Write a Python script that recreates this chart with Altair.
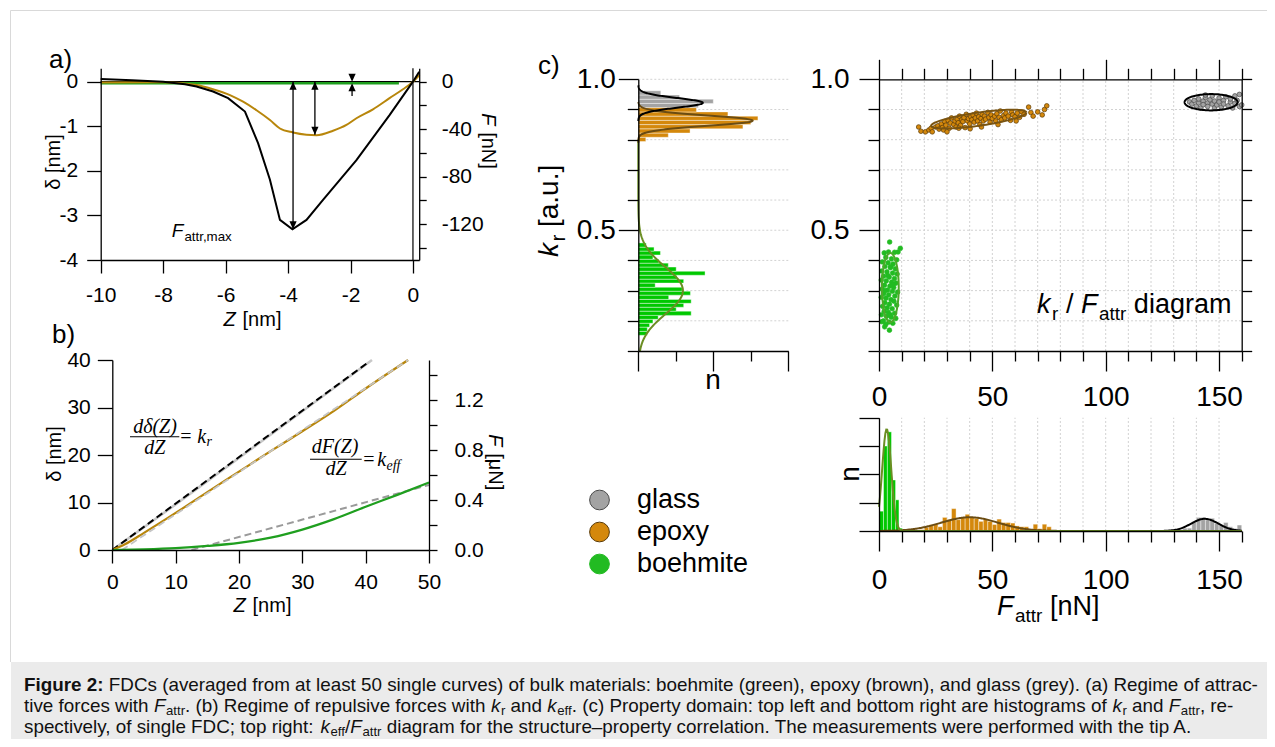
import altair as alt
import numpy as np
import pandas as pd

W, H = 1259, 731
SANS = "Liberation Sans"
SERIF = "Liberation Serif"


def px(x):
    return x - 8.0


def py(y):
    return y - 8.0


# ---------------- colours ----------------
C_GREEN = "#00c800"
C_GREEN_LINE = "#1f9f1f"
C_GREEN_PT = "#22bb22"
C_ORANGE = "#d4880c"
C_GREY = "#a3a3a3"
C_EPOXY_LINE = "#b8860b"
C_FIT_GREEN = "#6b8e23"
C_FIT_BROWN = "#6b4c12"
C_GRID = "#d2d2d2"

# ---------------- panel a : attractive regime ----------------
A_GLASS_Z = [-10, -9, -8, -7.3, -6.93, -6.4, -5.92, -5.38, -4.96, -4.58, -4.26, -3.86, -3.41, -2.88, -1.81, -0.75, 0.0, 0.2]
A_GLASS_D = [0.06, 0.03, 0.0, -0.06, -0.11, -0.22, -0.37, -0.67, -1.38, -2.2, -3.1, -3.31, -3.1, -2.65, -1.76, -0.75, 0.0, 0.22]
A_EPOXY_Z = [-10, -8.0, -6.93, -6.4, -5.86, -5.44, -5.01, -4.58, -4.26, -3.84, -3.41, -3.09, -2.56, -2.13, -1.81, -1.28, -0.75, -0.32, 0.0, 0.21]
A_EPOXY_D = [-0.02, -0.015, -0.075, -0.17, -0.30, -0.45, -0.64, -0.86, -1.05, -1.14, -1.19, -1.20, -1.10, -0.97, -0.82, -0.62, -0.37, -0.17, 0.0, 0.15]
A_BOEH_Z = [-10, -0.45]
A_BOEH_D = [-0.035, -0.035]
A_ARROW_Z = [-3.84, -3.14]
A_ARROW_TOP = [0.0, 0.0]
A_ARROW_BOT = [-3.31, -1.19]
A_HEAD_UP_D = [-0.09, -0.09]
A_HEAD_DN_D = [-3.22, -1.10]
A_MARK_Z = [-1.95]
A_MARK_DN_D = [0.09]
A_MARK_UP_D = [-0.125]
A_MARK_STEM = [-0.2, -0.32]
A_ZT = [-10, -8, -6, -4, -2, 0]
A_DT = [-4, -3, -2, -1, 0]
A_FT = [-140, -120, -100, -80, -60, -40, -20, 0]

# ---------------- panel b : repulsive regime ----------------
B_GLASS_Z = [0, 10, 20, 30, 41]
B_GLASS_D = [0, 9.6, 19.4, 29.2, 40]
B_GLASS_FIT_Z = [0, 40.5]
B_GLASS_FIT_D = [0, 39.6]
B_EPOXY_Z = [0, 2, 5, 10, 15, 20, 25, 30, 35, 40, 46.7]
B_EPOXY_D = [0, 1.2, 3.6, 7.8, 12.2, 16.5, 20.8, 25.0, 29.3, 34.0, 40]
B_EPOXY_FIT_Z = [1.5, 46.7]
B_EPOXY_FIT_D = [0, 40]
B_BOEH_Z = [0, 5, 10, 15, 20, 25, 30, 35, 40, 45, 50]
B_BOEH_D = [0, 0.15, 0.4, 0.85, 1.5, 2.6, 4.3, 6.5, 9.1, 11.6, 14.2]
B_BOEH_FIT_Z = [12.5, 50]
B_BOEH_FIT_D = [0, 13.7]
B_ZT = [0, 10, 20, 30, 40, 50]
B_DT = [0, 10, 20, 30, 40]
B_FT = [0, 0.2, 0.4, 0.6, 0.8, 1.0, 1.2, 1.4]

# ---------------- panel c : k_r histogram ----------------
LH_GREEN_LO = [0.152, 0.165, 0.179, 0.192, 0.205, 0.218, 0.232, 0.245, 0.258, 0.271, 0.285, 0.298,
               0.311, 0.325, 0.338, 0.351, 0.364, 0.378, 0.391, 0.404, 0.418, 0.431, 0.444]
LH_GREEN_N = [2.4, 2.4, 3.0, 3.9, 5.3, 14.1, 10.1, 12.1, 14.1, 8.1, 13.9, 11.7,
              4.5, 12.1, 10.3, 17.8, 10.1, 8.0, 5.5, 3.9, 5.9, 4.2, 2.1]
LH_EPOXY_LO = [0.794, 0.808, 0.822, 0.836, 0.850, 0.864, 0.878, 0.892]
LH_EPOXY_N = [2, 8, 13.8, 27.9, 30, 31.9, 23.9, 15.5]
LH_GLASS_LO = [0.892, 0.906, 0.920, 0.934, 0.948]
LH_GLASS_N = [5, 16, 20, 11, 6]
LH_FIT = {  # mean, sigma, amplitude, from, to
    "glass": (0.922, 0.016, 17.2, 0.862, 0.98),
    "epoxy": (0.863, 0.017, 30.5, 0.79, 0.925),
    "boehmite": (0.300, 0.078, 11.9, 0.10, 0.80),
}

# ---------------- panel c : F_attr histogram ----------------
BH_GREEN_LO = [0.0, 2.0, 3.7, 5.5, 7.3, 8.8]
BH_GREEN_HI = [2.0, 3.7, 5.5, 7.3, 8.8, 10.3]
BH_GREEN_N = [7, 30, 35, 18, 11, 1]
BH_EPOXY_LO = [18, 20, 22, 24, 26, 28, 30, 32, 34, 36, 38, 40, 42, 44, 46, 48, 50, 52, 54, 56, 58, 60,
               62, 64, 66, 68, 70, 72, 74]
BH_EPOXY_N = [0.5, 1.3, 2.2, 2.5, 1.5, 4.8, 4.0, 7.9, 4.0, 4.8, 5.9, 4.8, 4.5, 3.4, 4.0, 3.4, 2.3, 4.2,
              3.0, 3.0, 2.8, 1.8, 1.5, 1.5, 0.5, 2.4, 0.8, 2.4, 1.5]
BH_GLASS_LO = [132, 134, 136, 138, 140, 142, 144, 146, 148, 150, 152, 154, 156, 158]
BH_GLASS_N = [0.5, 1.0, 1.0, 3.3, 4.8, 4.8, 3.9, 4.5, 2.7, 2.1, 3.0, 1.5, 0.9, 2.1]
BH_FIT = {"glass": (143.7, 6.0, 4.3), "epoxy": (40.0, 12.5, 4.85), "boehmite": (3.4, 2.0, 36.0)}

# ---------------- panel c : k_r / F_attr diagram ----------------
GLASS_F = [137, 138, 139, 140, 141, 141, 142, 143, 143, 144, 145, 145, 146, 147, 147, 148, 148, 149, 150, 150,
           151, 152, 152, 153, 154, 155, 155, 156, 157, 157, 158, 159, 159, 160, 144]
GLASS_KR = [0.925, 0.918, 0.930, 0.912, 0.922, 0.935, 0.905, 0.928, 0.916, 0.940, 0.922, 0.910, 0.932, 0.918,
            0.945, 0.905, 0.928, 0.915, 0.938, 0.925, 0.908, 0.930, 0.918, 0.942, 0.912, 0.925, 0.935, 0.905,
            0.920, 0.945, 0.930, 0.910, 0.950, 0.915, 0.948]
EPOXY_F = [17.5, 18.5, 20.5, 22, 23, 23.5, 25, 26, 26.5, 27.5, 28, 29, 29.5, 30.5, 31, 31.5, 32, 33, 33.5, 34,
           34.5, 35, 35.5, 36, 36.5, 37, 37.5, 38, 38.5, 39, 39.5, 40, 40.5, 41, 41.5, 42, 42.5, 43, 43.5, 44,
           44.5, 45, 45.5, 46, 46.5, 47, 48, 48.5, 49, 49.5, 50, 51, 51.5, 52, 53, 53.5, 54, 55, 55.5, 56,
           57, 58, 58.5, 59, 60, 61, 62, 63, 64, 66, 67, 68, 70, 72, 73, 74, 28.5, 35.2, 45.2, 52.5,
           60.5, 30, 40.2]
EPOXY_KR = [0.842, 0.828, 0.826, 0.832, 0.838, 0.826, 0.842, 0.846, 0.835, 0.852, 0.84, 0.86, 0.848, 0.864,
            0.838, 0.855, 0.872, 0.85, 0.862, 0.842, 0.868, 0.856, 0.878, 0.848, 0.866, 0.86, 0.873, 0.84,
            0.884, 0.862, 0.87, 0.852, 0.876, 0.866, 0.882, 0.858, 0.872, 0.888, 0.862, 0.876, 0.85, 0.87,
            0.884, 0.862, 0.878, 0.868, 0.89, 0.874, 0.858, 0.882, 0.87, 0.878, 0.862, 0.886, 0.874, 0.895,
            0.866, 0.88, 0.872, 0.888, 0.878, 0.864, 0.892, 0.882, 0.876, 0.888, 0.874, 0.892, 0.884, 0.908,
            0.89, 0.878, 0.892, 0.882, 0.9, 0.912, 0.832, 0.838, 0.842, 0.85, 0.862, 0.826, 0.836]
BOEH_F = [4.7, 9.4, 2.3, 4.2, 6.9, 8.4, 3.0, 5.5, 7.8, 1.5, 4.0, 6.2, 2.6, 5.0, 7.2, 1.2, 3.5, 6.0, 8.0, 2.0,
          4.5, 6.8, 1.0, 3.2, 5.6, 7.5, 2.4, 4.8, 6.5, 1.4, 3.8, 5.9, 8.2, 2.1, 4.3, 7.0, 1.0, 3.1, 5.3, 6.6,
          2.6, 4.6, 7.8, 1.6, 3.6, 5.8, 2.3, 4.1, 6.9, 1.1, 3.3, 5.4, 7.4, 2.0, 4.4, 6.1, 1.3, 2.5, 4.6, 3.0,
          5.0, 3.9, 5.2, 2.8, 6.3]
BOEH_KR = [0.461, 0.440, 0.425, 0.428, 0.427, 0.428, 0.410, 0.405, 0.402, 0.395, 0.392, 0.388, 0.380, 0.376,
           0.372, 0.365, 0.362, 0.358, 0.355, 0.348, 0.345, 0.340, 0.335, 0.332, 0.328, 0.325, 0.318, 0.315,
           0.310, 0.305, 0.302, 0.298, 0.295, 0.290, 0.286, 0.282, 0.278, 0.275, 0.270, 0.265, 0.260, 0.255,
           0.252, 0.248, 0.243, 0.240, 0.232, 0.228, 0.225, 0.220, 0.215, 0.212, 0.208, 0.200, 0.196, 0.192,
           0.197, 0.180, 0.169, 0.188, 0.220, 0.350, 0.380, 0.300, 0.320]
ELLIPSES = {  # centre F, centre k_r, major half-vector (dF, dk), minor half-vector (dF, dk)
    "glass": (146.5, 0.924, (11.7, 0.0), (0.0, 0.027)),
    "epoxy": (44.0, 0.868, (21.0, 0.022), (0.0, 0.022)),
    "boehmite": (5.0, 0.310, (3.7, 0.0), (0.0, 0.115)),
}
MATERIALS = ["glass", "epoxy", "boehmite"]
PT_FILL = [C_GREY, C_ORANGE, C_GREEN_PT]
PT_STROKE = ["#4a4a4a", "#5a3a06", C_GREEN_PT]

KR_MAJOR = [0.5, 1.0]
KR_MINOR = [0.1, 0.2, 0.3, 0.4, 0.6, 0.7, 0.8, 0.9]
KR_ALL = [0.1, 0.2, 0.3, 0.4, 0.5, 0.6, 0.7, 0.8, 0.9, 1.0]
KR_GRID = [0.2, 0.3, 0.4, 0.5, 0.6, 0.7, 0.8, 0.9, 1.0]
F_MAJOR = [0, 50, 100, 150]
F_MINOR = [10, 20, 30, 40, 60, 70, 80, 90, 110, 120, 130, 140, 160]
F_GRID = [10, 20, 30, 40, 50, 60, 70, 80, 90, 100, 110, 120, 130, 140, 150]
N_MAJOR = [0, 20, 40]
N_MINOR = [10, 30]
NB_TICKS = [0, 10, 20, 30, 40]

# ---------------- panel geometry (pixel ranges) ----------------
PA = {"x": ([-10, 0.2], [px(100.7), px(419.2)]), "y": ([-4, 0.3], [py(260), py(68.3)])}
PA_F = {"y": ([-150.3, 11.2], [py(260), py(68.3)])}
PB = {"x": ([0, 50], [px(112.3), px(429)]), "y": ([0, 40], [py(550), py(360)])}
PB_F = {"y": ([0, 1.52], [py(550), py(360)])}
PL = {"x": ([0, 40], [px(638.3), px(788.3)]), "y": ([0.1, 1.0], [py(351), py(79.3)])}
PS = {"x": ([0, 160], [px(879), px(1241.7)]), "y": ([0.1, 1.0], [py(351), py(79.3)])}
PH = {"x": ([0, 160], [px(879), px(1241.7)]), "y": ([0, 40], [py(531), py(417.7)])}

# ---------------- Arial / Helvetica advance widths ----------------
_REG = {' ': 278, '!': 278, '(': 333, ')': 333, ',': 278, '-': 333, '.': 278, '/': 278, ':': 278, ';': 278,
        '=': 584, '[': 278, ']': 278, '\u2013': 556,
        'A': 667, 'B': 667, 'C': 722, 'D': 722, 'E': 667, 'F': 611, 'G': 778, 'H': 722, 'I': 278, 'J': 500,
        'K': 667, 'L': 556, 'M': 833, 'N': 722, 'O': 778, 'P': 667, 'Q': 778, 'R': 722, 'S': 667, 'T': 611,
        'U': 722, 'V': 667, 'W': 944, 'X': 667, 'Y': 667, 'Z': 611,
        'a': 556, 'b': 556, 'c': 500, 'd': 556, 'e': 556, 'f': 278, 'g': 556, 'h': 556, 'i': 222, 'j': 222,
        'k': 500, 'l': 222, 'm': 833, 'n': 556, 'o': 556, 'p': 556, 'q': 556, 'r': 333, 's': 500, 't': 278,
        'u': 556, 'v': 500, 'w': 722, 'x': 500, 'y': 500, 'z': 500}
for _d in "0123456789":
    _REG[_d] = 556
_BOLD = {'F': 611, 'i': 278, 'g': 611, 'u': 611, 'r': 389, 'e': 556, ' ': 278, '2': 556, ':': 333}


def tw(s, bold=False):
    tab = _BOLD if bold else _REG
    return sum(tab.get(c, _REG.get(c, 556)) for c in s) / 1000.0


L = []


def S(dom, rng):
    return alt.Scale(domain=list(dom), range=list(rng), nice=False, zero=False)


def XE(field, p):
    return alt.X(field, scale=S(*p["x"]), axis=None)


def YE(field, p):
    return alt.Y(field, scale=S(*p["y"]), axis=None)


def line(p, xs, ys, color, width, dash=None, interp=None):
    df = pd.DataFrame({"x": xs, "y": ys, "o": np.arange(len(xs))})
    kw = dict(color=color, strokeWidth=width)
    if dash:
        kw["strokeDash"] = dash
    if interp:
        kw["interpolate"] = interp
    return alt.Chart(df).mark_line(**kw).encode(x=XE("x:Q", p), y=YE("y:Q", p), order="o:Q")


def vrules(p, xs, y0, y1, color, width=1.0, dash=None):
    df = pd.DataFrame({"x": xs, "a": y0, "b": y1})
    kw = dict(color=color, strokeWidth=width)
    if dash:
        kw["strokeDash"] = dash
    return alt.Chart(df).mark_rule(**kw).encode(x=XE("x:Q", p), y=YE("a:Q", p), y2="b:Q")


def hrules(p, ys, x0, x1, color, width=1.0, dash=None):
    df = pd.DataFrame({"y": ys, "a": x0, "b": x1})
    kw = dict(color=color, strokeWidth=width)
    if dash:
        kw["strokeDash"] = dash
    return alt.Chart(df).mark_rule(**kw).encode(y=YE("y:Q", p), x=XE("a:Q", p), x2="b:Q")


def vbars(p, lo, hi, n, color):
    df = pd.DataFrame({"lo": lo, "hi": hi, "n": n, "z": 0.0})
    return alt.Chart(df).mark_rect(color=color, stroke="white", strokeWidth=0.4).encode(
        x=XE("lo:Q", p), x2="hi:Q", y=YE("n:Q", p), y2="z:Q")


def hbars(p, lo, hi, n, color):
    df = pd.DataFrame({"lo": lo, "hi": hi, "n": n, "z": 0.0})
    return alt.Chart(df).mark_rect(color=color, stroke="white", strokeWidth=0.4).encode(
        y=YE("lo:Q", p), y2="hi:Q", x=XE("n:Q", p), x2="z:Q")


SHAPE_UP = "M0,-1L0.9,1L-0.9,1Z"
SHAPE_DN = "M0,1L0.9,-1L-0.9,-1Z"


def heads(p, xs, ys, shape):
    df = pd.DataFrame({"x": xs, "y": ys})
    return alt.Chart(df).mark_point(shape=shape, filled=True, size=64, color="black", opacity=1).encode(
        x=XE("x:Q", p), y=YE("y:Q", p))


def ax(ch, p, orient, pos, values, tick, labels=True, pad=0, fs=21, fmt=None, lexpr=None, domain=True,
       baseline=None):
    if orient == "bottom":
        off = py(pos) - H
    elif orient == "top":
        off = -py(pos)
    elif orient == "left":
        off = -px(pos)
    else:
        off = px(pos) - W
    kw = dict(orient=orient, offset=off, values=values, tickSize=tick, labels=labels, title=None, grid=False,
              domain=domain, domainColor="black", tickColor="black", domainWidth=1.3, tickWidth=1.3,
              labelFont=SANS, labelFontSize=fs, labelColor="black", labelPadding=pad, labelFlush=False,
              labelOverlap=False, ticks=True, zindex=2)
    if fmt:
        kw["format"] = fmt
    if lexpr:
        kw["labelExpr"] = lexpr
    if baseline:
        kw["labelBaseline"] = baseline
    axis = alt.Axis(**kw)
    dom, rng = p[ch]
    df = pd.DataFrame({"v": [dom[0]]})
    if ch == "x":
        enc = {"x": alt.X("v:Q", scale=S(dom, rng), axis=axis)}
    else:
        enc = {"y": alt.Y("v:Q", scale=S(dom, rng), axis=axis)}
    return alt.Chart(df).mark_point(opacity=0).encode(**enc)


def text(t, X, Y, size, angle=0, align="center", baseline="middle", font=SANS, style="normal",
         weight="normal", color="black"):
    return alt.Chart(pd.DataFrame({"t": [t]})).mark_text(
        align=align, baseline=baseline, angle=angle, font=font, fontSize=size, fontStyle=style,
        fontWeight=weight, color=color).encode(text="t:N", x=alt.value(px(X)), y=alt.value(py(Y)))


def rich(segs, X, Y, size, angle=0, center=False, font=SANS, color="black", sub=0.7, subdy=0.25,
         baseline="alphabetic", italic_gap=0.06):
    ws = []
    for t, kind in segs:
        fs = size * sub if kind == "sub" else size
        ws.append(tw(t, kind == "b") * fs + (italic_gap * size if kind == "i" else 0))
    cur = -sum(ws) / 2.0 if center else 0.0
    out = []
    for (t, kind), w in zip(segs, ws):
        fs = size * sub if kind == "sub" else size
        lead = len(t) - len(t.lstrip(" "))
        shift = tw(" " * lead) * fs
        out.append(alt.Chart(pd.DataFrame({"t": [t.strip(" ")]})).mark_text(
            align="left", baseline=baseline, dx=cur + shift, dy=(size * subdy if kind == "sub" else 0),
            angle=angle, font=font, fontSize=fs, fontStyle=("italic" if kind == "i" else "normal"),
            fontWeight=("bold" if kind == "b" else "normal"), color=color).encode(
            text="t:N", x=alt.value(px(X)), y=alt.value(py(Y))))
        cur += w
    return out


def gauss(mu, sig, amp, lo, hi, num=160):
    t = np.linspace(lo, hi, num)
    return t, amp * np.exp(-0.5 * ((t - mu) / sig) ** 2)


# ================= background: frame and caption box =================
L.append(alt.Chart(pd.DataFrame({"t": [""]})).mark_rule(color="#d9d9d9", strokeWidth=1).encode(
    x=alt.value(px(10.5)), x2=alt.value(W), y=alt.value(py(10.5))))
L.append(alt.Chart(pd.DataFrame({"t": [""]})).mark_rule(color="#d9d9d9", strokeWidth=1).encode(
    x=alt.value(px(10.5)), y=alt.value(py(10.5)), y2=alt.value(py(662))))
L.append(alt.Chart(pd.DataFrame({"t": [""]})).mark_rect(fill="#ebebeb").encode(
    x=alt.value(px(11)), x2=alt.value(W + 5), y=alt.value(py(662)), y2=alt.value(H + 5)))

# ================= panel a =================
L.append(hrules(PA, [0.0], [-10.0], [0.2], "black", 1.2))
L.append(vrules(PA, [0.0], [-4.0], [0.3], "black", 1.2))
L.append(line(PA, A_BOEH_Z, A_BOEH_D, C_GREEN_LINE, 2.6))
L.append(line(PA, A_EPOXY_Z, A_EPOXY_D, C_EPOXY_LINE, 2.0, interp="monotone"))
L.append(line(PA, A_GLASS_Z, A_GLASS_D, "black", 2.0))
L.append(vrules(PA, A_ARROW_Z, A_ARROW_TOP, A_ARROW_BOT, "black", 1.3))
L.append(heads(PA, A_ARROW_Z, A_HEAD_UP_D, SHAPE_UP))
L.append(heads(PA, A_ARROW_Z, A_HEAD_DN_D, SHAPE_DN))
L.append(heads(PA, A_MARK_Z, A_MARK_DN_D, SHAPE_DN))
L.append(heads(PA, A_MARK_Z, A_MARK_UP_D, SHAPE_UP))
L.append(vrules(PA, A_MARK_Z, [A_MARK_STEM[0]], [A_MARK_STEM[1]], "black", 1.3))
HYPH = "replace(datum.label, '\u2212', '-')"
L.append(ax("y", PA, "left", 100.7, A_DT, 14, pad=9, fs=21, lexpr=HYPH))
L.append(ax("x", PA, "bottom", 260, A_ZT, 13, pad=22, fs=21, lexpr=HYPH, baseline="middle"))
L.append(ax("y", PA_F, "right", 419.2, A_FT, 7, pad=15, fs=21,
            lexpr="datum.value % 40 == 0 ? " + HYPH + " : ''"))

# ================= panel b =================
L.append(line(PB, B_GLASS_Z, B_GLASS_D, "#c8c8c8", 2.6))
L.append(line(PB, B_GLASS_FIT_Z, B_GLASS_FIT_D, "black", 2.0, dash=[7, 4]))
L.append(line(PB, B_EPOXY_Z, B_EPOXY_D, C_EPOXY_LINE, 2.2, interp="monotone"))
L.append(line(PB, B_EPOXY_FIT_Z, B_EPOXY_FIT_D, "#c4c4c4", 1.8, dash=[7, 4]))
L.append(line(PB, B_BOEH_FIT_Z, B_BOEH_FIT_D, "#9a9a9a", 2.0, dash=[7, 4]))
L.append(line(PB, B_BOEH_Z, B_BOEH_D, C_GREEN_LINE, 2.2, interp="monotone"))
L.append(ax("y", PB, "left", 112.3, B_DT, 15, pad=7, fs=21))
L.append(ax("x", PB, "bottom", 550, B_ZT, 13, pad=19, fs=21, baseline="middle"))
L.append(ax("y", PB_F, "right", 429, B_FT, 8, pad=17, fs=21, fmt=".1f",
            lexpr="abs((datum.value * 10) % 4) < 0.01 ? datum.label : ''"))

# formulas
L.append(text("d\u03b4(Z)", 155, 427, 20, font=SERIF, style="italic"))
L.append(text("dZ", 154.7, 447.5, 20, font=SERIF, style="italic"))
L.append(alt.Chart(pd.DataFrame({"t": [""]})).mark_rule(color="black", strokeWidth=1.1).encode(
    x=alt.value(px(130)), x2=alt.value(px(179.3)), y=alt.value(py(436.7))))
L.append(text("=", 186, 437, 20, font=SERIF))
L.append(text("k", 201.7, 437, 20, font=SERIF, style="italic"))
L.append(text("r", 206.5, 442, 14, font=SERIF, style="italic", align="left"))
L.append(text("dF(Z)", 335, 447, 20, font=SERIF, style="italic"))
L.append(text("dZ", 336, 469, 20, font=SERIF, style="italic"))
L.append(alt.Chart(pd.DataFrame({"t": [""]})).mark_rule(color="black", strokeWidth=1.1).encode(
    x=alt.value(px(310)), x2=alt.value(px(361.7)), y=alt.value(py(459.3))))
L.append(text("=", 369, 460, 20, font=SERIF))
L.append(text("k", 381.7, 460, 20, font=SERIF, style="italic"))
L.append(text("eff", 386.5, 465.5, 14, font=SERIF, style="italic", align="left"))

# ================= panel c : k_r histogram =================
L.append(hrules(PL, KR_GRID, [0.0] * len(KR_GRID), [40.0] * len(KR_GRID), C_GRID, 1.0, dash=[2, 2]))
L.append(hbars(PL, LH_GLASS_LO, LH_GLASS_LO[1:] + [0.962], LH_GLASS_N, C_GREY))
L.append(hbars(PL, LH_EPOXY_LO, LH_EPOXY_LO[1:] + [0.906], LH_EPOXY_N, C_ORANGE))
L.append(hbars(PL, LH_GREEN_LO, LH_GREEN_LO[1:] + [0.458], LH_GREEN_N, C_GREEN))
for mat, col in (("boehmite", C_FIT_GREEN), ("epoxy", C_FIT_BROWN), ("glass", "black")):
    mu, sg, amp, lo, hi = LH_FIT[mat]
    kr, n = gauss(mu, sg, amp, lo, hi)
    L.append(line(PL, n, kr, col, 2.0))
L.append(ax("y", PL, "left", 638.3, KR_MAJOR, 20, pad=3, fs=28, fmt=".1f"))
L.append(ax("y", PL, "left", 638.3, KR_MINOR, 11, labels=False, domain=False))
L.append(ax("x", PL, "bottom", 351, N_MAJOR, 20, labels=False))
L.append(ax("x", PL, "bottom", 351, N_MINOR, 10, labels=False, domain=False))

# ================= panel c : scatter =================
L.append(vrules(PS, F_GRID, [0.1] * len(F_GRID), [1.0] * len(F_GRID), C_GRID, 1.0, dash=[2, 2]))
L.append(hrules(PS, KR_GRID[:-1], [0.0] * (len(KR_GRID) - 1), [160.0] * (len(KR_GRID) - 1), C_GRID, 1.0,
                dash=[2, 2]))
pts = pd.concat([
    pd.DataFrame({"F": GLASS_F, "kr": GLASS_KR, "m": "glass"}),
    pd.DataFrame({"F": EPOXY_F, "kr": EPOXY_KR, "m": "epoxy"}),
    pd.DataFrame({"F": BOEH_F, "kr": BOEH_KR, "m": "boehmite"}),
], ignore_index=True)
LEG = dict(orient="none", legendX=px(586), legendY=py(486.5), title=None, labelFont=SANS, labelFontSize=27,
           labelColor="black", symbolSize=390, symbolStrokeWidth=1.0, symbolType="circle", rowPadding=4,
           labelOffset=24, padding=0, symbolOpacity=1)
L.append(alt.Chart(pts).mark_point(shape="circle", filled=True, size=22, strokeWidth=0.7, opacity=1).encode(
    x=XE("F:Q", PS), y=YE("kr:Q", PS),
    fill=alt.Fill("m:N", scale=alt.Scale(domain=MATERIALS, range=PT_FILL), legend=alt.Legend(**LEG)),
    stroke=alt.Stroke("m:N", scale=alt.Scale(domain=MATERIALS, range=PT_STROKE), legend=alt.Legend(**LEG)),
))
for mat, col in (("glass", "black"), ("epoxy", "#7a5410"), ("boehmite", "#4ea82a")):
    cx, cy, (ux, uy), (vx, vy) = ELLIPSES[mat]
    t = np.linspace(0, 2 * np.pi, 121)
    L.append(line(PS, cx + ux * np.cos(t) + vx * np.sin(t), cy + uy * np.cos(t) + vy * np.sin(t), col, 2.0))
L.append(ax("y", PS, "left", 879, KR_MAJOR, 20, pad=10, fs=28, fmt=".1f"))
L.append(ax("y", PS, "left", 879, KR_MINOR, 11, labels=False, domain=False))
L.append(ax("y", PS, "right", 1241.7, KR_ALL, 10, labels=False))
L.append(ax("x", PS, "top", 79.3, F_MAJOR, 20, labels=False))
L.append(ax("x", PS, "top", 79.3, F_MINOR, 11, labels=False, domain=False))
L.append(ax("x", PS, "bottom", 351, F_MAJOR, 20, pad=26, fs=28, baseline="middle"))
L.append(ax("x", PS, "bottom", 351, F_MINOR, 10, labels=False, domain=False))

# ================= panel c : F_attr histogram =================
L.append(vrules(PH, F_GRID, [0.0] * len(F_GRID), [40.0] * len(F_GRID), C_GRID, 1.0, dash=[2, 2]))
L.append(vbars(PH, BH_EPOXY_LO, [v + 2 for v in BH_EPOXY_LO], BH_EPOXY_N, C_ORANGE))
L.append(vbars(PH, BH_GLASS_LO, [v + 2 for v in BH_GLASS_LO], BH_GLASS_N, C_GREY))
L.append(vbars(PH, BH_GREEN_LO, BH_GREEN_HI, BH_GREEN_N, C_GREEN))
for mat, col in (("glass", "black"), ("epoxy", C_FIT_BROWN), ("boehmite", C_FIT_GREEN)):
    mu, sg, amp = BH_FIT[mat]
    f, n = gauss(mu, sg, amp, 0, 160, 400)
    L.append(line(PH, f, n, col, 2.0))
L.append(ax("y", PH, "left", 879, NB_TICKS, 20, labels=False))
L.append(ax("x", PH, "bottom", 531, F_MAJOR, 20, pad=29, fs=28, baseline="middle"))
L.append(ax("x", PH, "bottom", 531, F_MINOR, 11, labels=False, domain=False))

# ================= titles and labels =================
L.append(text("a)", 49, 60, 26, align="left"))
L.append(text("b)", 52, 335, 26, align="left"))
L.append(text("c)", 538, 66, 26, align="left"))
L += rich([("Z", "i"), (" [nm]", "n")], 252.5, 326, 20, center=True)
L.append(text("\u03b4 [nm]", 54, 162, 20, angle=270))
L += rich([("F", "i"), (" [nN]", "n")], 488, 141, 20, angle=90, center=True, baseline="middle")
L += rich([("F", "i"), ("attr,max", "sub")], 171.7, 236.7, 19)
L += rich([("Z", "i"), (" [nm]", "n")], 262.5, 612, 20, center=True)
L.append(text("\u03b4 [nm]", 55, 454, 20, angle=270))
L += rich([("F", "i"), (" [\u03bcN]", "n")], 495, 462, 20, angle=90, center=True, baseline="middle")
L += rich([("k", "i"), ("r", "sub"), (" [a.u.]", "n")], 558, 257, 28, angle=270)
L.append(text("n", 713, 381, 28))
L += rich([("k", "i"), ("r", "sub"), (" / ", "n"), ("F", "i"), ("attr", "sub"), (" diagram", "n")], 1037, 313, 27)
L.append(text("n", 850.5, 474, 28, angle=270))
L += rich([("F", "i"), ("attr", "sub"), (" [nN]", "n")], 997, 615, 27)

# ================= caption =================
CAP1 = [("Figure 2:", "b"), (" FDCs (averaged from at least 50 single curves) of bulk materials: boehmite (green), "
                             "epoxy (brown), and glass (grey). (a) Regime of attrac-", "n")]
CAP2 = [("tive forces with ", "n"), ("F", "i"), ("attr", "sub"), (". (b) Regime of repulsive forces with ", "n"),
        ("k", "i"), ("r", "sub"), (" and ", "n"), ("k", "i"), ("eff", "sub"),
        (". (c) Property domain: top left and bottom right are histograms of ", "n"), ("k", "i"), ("r", "sub"),
        (" and ", "n"), ("F", "i"), ("attr", "sub"), (", re-", "n")]
CAP3 = [("spectively, of single FDC; top right: ", "n"), ("k", "i"), ("eff", "sub"), ("/", "n"), ("F", "i"),
        ("attr", "sub"),
        (" diagram for the structure\u2013property correlation. The measurements were performed with the tip A.", "n")]
cap_em = sum(tw(t, k == "b") for t, k in CAP1)
CAP_FS = 1235.0 / cap_em
for segs, yb in ((CAP1, 691), (CAP2, 712), (CAP3, 733)):
    L += rich(segs, 24, yb, CAP_FS, color="#111111", subdy=0.14, italic_gap=0.03)

chart = alt.layer(*L).resolve_scale(x="independent", y="independent").resolve_axis(
    x="independent", y="independent").properties(
    width=W, height=H, padding=0, autosize=alt.AutoSizeParams(type="none")).configure_view(strokeWidth=0)

chart.save("out.html", embed_options={"renderer": "svg", "actions": False})
